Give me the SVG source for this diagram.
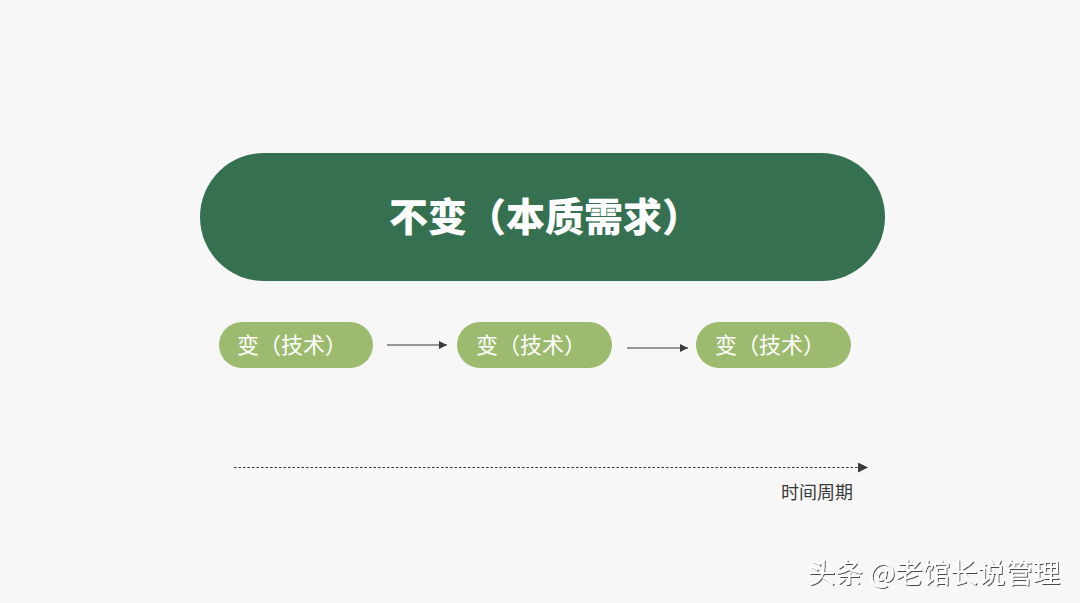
<svg xmlns="http://www.w3.org/2000/svg" width="1080" height="603" viewBox="0 0 1080 603">
<defs>
<style>
.cjk{font-family:"Noto Sans CJK SC","Noto Sans",sans-serif;}
.pill{fill:#9dbb6f;}
.pt{fill:#ffffff;font-size:22px;}
.conn{stroke:#3a3a3a;stroke-width:1.2;fill:none;}
</style>
<marker id="ah" viewBox="0 0 10 10" refX="10" refY="5" markerWidth="8" markerHeight="8" markerUnits="userSpaceOnUse" orient="auto">
<path d="M0,0 L10,5 L0,10 Z" fill="#3a3a3a"/>
</marker>
<marker id="ah2" viewBox="0 0 10 10" refX="10" refY="5" markerWidth="10" markerHeight="10" markerUnits="userSpaceOnUse" orient="auto">
<path d="M0,0 L10,5 L0,10 Z" fill="#3a3a3a"/>
</marker>
<filter id="sh" x="-5%" y="-20%" width="110%" height="140%">
<feDropShadow dx="1" dy="1" stdDeviation="0.6" flood-color="#000" flood-opacity="0.7"/>
</filter>
</defs>
<rect width="1080" height="603" fill="#f7f7f7"/>
<g id="main">
<rect x="200" y="153" width="685" height="128" rx="64" fill="#357151"/>
<text x="389" y="231" class="cjk" font-size="39" font-weight="900" fill="#ffffff">不变（本质需求）</text>
</g>
<g id="tech1">
<rect class="pill" x="219" y="322" width="154" height="46" rx="23"/>
<text class="cjk pt" x="237" y="353">变（技术）</text>
</g>
<g id="tech2">
<rect class="pill" x="457" y="322" width="155" height="46" rx="23"/>
<text class="cjk pt" x="476" y="353">变（技术）</text>
</g>
<g id="tech3">
<rect class="pill" x="696" y="322" width="155" height="46" rx="23"/>
<text class="cjk pt" x="715" y="353">变（技术）</text>
</g>
<g id="connectors">
<line class="conn" x1="387" y1="345" x2="447" y2="345" marker-end="url(#ah)"/>
<line class="conn" x1="627" y1="348" x2="688" y2="348" marker-end="url(#ah)"/>
<line class="conn" x1="234" y1="467.5" x2="868" y2="467.5" stroke-dasharray="2.5,2" stroke-width="1" marker-end="url(#ah2)"/>
</g>
<g id="axis-label">
<text class="cjk" x="853" y="499" text-anchor="end" font-size="18" fill="#3a3a3a">时间周期</text>
</g>
<text class="cjk" x="808" y="583" font-size="27.5" fill="#ffffff" filter="url(#sh)">头条 @老馆长说管理</text>
</svg>
